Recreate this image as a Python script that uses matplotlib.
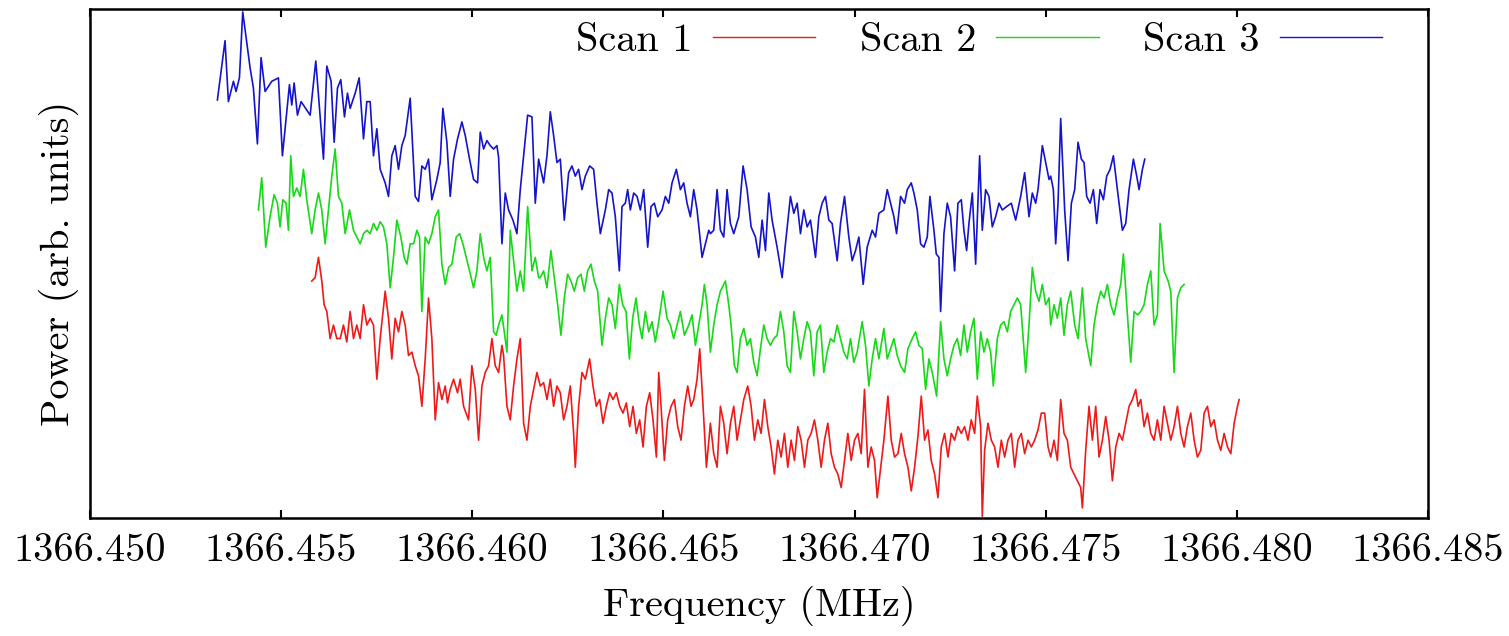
import numpy as np
import matplotlib
matplotlib.use("Agg")
import matplotlib.pyplot as plt

plt.rcParams['font.family'] = ['cmr10', 'DejaVu Serif']
plt.rcParams['axes.unicode_minus'] = False
plt.rcParams['mathtext.fontset'] = 'cm'

F0 = 1366.450  # MHz, reference frequency for the offsets below (offsets in kHz)

scan3_khz = [3.334,3.534,3.622,3.753,3.822,3.910,3.997,4.189,4.276,4.381,4.477,4.582,4.756,4.931,5.035,5.219,5.280,5.341,5.428,5.524,5.760,5.908,6.109,6.196,6.309,6.388,6.475,6.562,6.658,6.737,6.807,6.938,7.042,7.156,7.243,
             7.330,7.417,7.505,7.592,7.723,7.810,7.897,7.984,8.072,8.159,8.246,8.377,8.508,8.595,8.683,8.770,8.857,8.944,9.075,9.162,9.232,9.337,9.424,9.512,9.616,9.730,9.817,9.930,10.035,10.140,10.210,10.297,10.384,10.471,10.559,10.646,10.690,10.777,10.864,10.951,11.065,11.169,11.257,11.344,11.449,11.562,11.649,11.737,
             11.867,11.955,12.042,12.129,12.216,12.304,12.408,12.522,12.609,12.696,12.783,12.871,12.958,13.071,13.176,13.263,13.351,13.482,13.569,13.656,13.743,13.848,13.918,14.005,14.066,14.136,14.223,14.311,14.398,14.485,14.590,14.677,14.764,14.852,14.965,15.052,15.140,15.227,15.340,15.445,15.532,15.619,15.707,15.794,15.881,16.012,16.099,16.187,
             16.230,16.317,16.405,16.492,16.579,16.666,16.754,16.841,16.972,17.085,17.190,17.295,17.408,17.495,17.583,17.670,17.757,17.844,17.975,18.106,18.193,18.324,18.412,18.499,18.586,18.673,18.761,18.848,18.979,19.066,19.153,19.240,19.328,19.415,19.546,19.633,19.738,19.851,19.939,20.026,20.113,20.227,20.331,20.462,20.549,20.637,
             20.768,20.856,20.943,21.030,21.100,21.205,21.309,21.379,21.484,21.554,21.641,21.728,21.815,21.903,21.972,22.077,22.138,22.208,22.252,22.339,22.426,22.513,22.618,22.705,22.793,22.862,22.932,22.993,23.081,23.168,23.273,23.342,23.430,23.517,23.604,23.691,23.779,23.866,23.979,24.101,24.215,24.346,24.450,24.564,24.651,24.738,24.800,24.913,25.000,25.088,
             25.131,25.201,25.262,25.323,25.393,25.497,25.585,25.672,25.759,25.847,25.934,26.004,26.073,26.161,26.248,26.335,26.422,26.510,26.597,26.684,26.771,26.876,27.007,27.094,27.181,27.295,27.382,27.443,27.531,27.592]
scan3_power = [123.5,141.0,123.0,129.0,126.0,130.0,149.5,133.0,127.0,110.5,136.0,126.0,129.0,130.0,107.0,128.0,122.0,128.5,119.0,123.0,119.0,135.0,106.0,133.5,129.0,111.0,127.0,129.5,118.5,125.5,121.0,125.5,130.0,112.0,123.0,
               123.0,107.0,115.0,103.0,99.0,95.0,107.0,110.0,103.0,110.0,113.0,124.0,95.0,93.5,104.0,103.0,106.0,94.0,100.0,105.0,121.0,111.0,95.0,106.0,112.0,117.0,113.0,106.0,100.0,99.0,114.0,109.0,111.5,110.0,109.0,110.0,106.5,81.0,96.0,91.0,88.0,84.0,97.0,107.0,119.0,118.5,93.0,106.0,
               99.0,107.0,120.0,113.0,105.0,106.0,88.0,102.0,104.0,101.0,103.0,97.0,101.0,104.0,103.0,93.0,84.0,91.0,97.0,96.0,89.0,73.0,92.0,93.0,97.0,91.0,96.0,95.0,91.0,97.0,80.0,92.0,93.0,89.0,91.0,95.0,93.0,99.0,103.0,97.0,99.0,93.0,89.0,97.0,91.0,77.0,81.0,85.0,
               84.0,85.0,97.0,85.0,83.0,97.0,87.0,84.0,89.0,104.0,97.0,86.0,83.0,77.0,88.0,79.0,96.0,88.0,80.0,71.0,81.0,95.0,90.0,93.0,84.0,91.0,86.0,88.0,77.0,89.0,93.0,95.0,88.0,87.0,76.0,87.0,95.0,83.0,76.0,79.0,83.0,69.0,80.0,85.0,83.0,90.0,
               91.0,97.0,93.0,89.0,84.0,95.0,93.0,97.0,99.0,96.0,91.0,81.0,80.0,83.0,95.0,85.0,78.0,77.0,61.0,84.0,93.0,89.0,73.0,93.0,94.0,85.0,79.0,87.0,96.0,75.0,107.0,85.0,97.0,95.0,86.0,89.0,93.0,91.0,92.0,93.0,88.0,95.0,102.0,89.0,96.0,93.0,97.0,110.0,105.0,100.0,
               101.0,97.0,81.0,93.0,118.0,91.0,76.0,93.0,97.0,111.0,106.0,105.0,95.0,93.0,97.0,87.0,97.0,94.0,101.0,103.0,107.0,97.0,85.0,87.0,97.0,106.0,101.0,97.0,103.0,106.0]

scan2_khz = [4.407,4.494,4.599,4.712,4.817,4.904,4.974,5.044,5.131,5.192,5.253,5.323,5.411,5.498,5.585,5.672,5.803,5.890,5.978,6.065,6.152,6.240,6.327,6.414,6.501,6.589,6.676,6.789,6.894,6.981,7.068,7.156,7.243,
             7.330,7.417,7.505,7.592,7.679,7.766,7.854,7.941,8.028,8.133,8.220,8.290,8.377,8.464,8.552,8.621,8.683,8.770,8.857,8.944,9.032,9.119,9.206,9.293,9.381,9.468,9.581,9.669,9.756,9.843,9.930,10.035,10.122,10.210,10.297,10.384,10.471,10.559,10.628,10.690,10.777,10.838,10.908,10.995,11.082,11.169,11.257,11.344,11.449,11.562,11.649,11.737,
             11.780,11.867,11.955,12.059,12.146,12.234,12.321,12.408,12.496,12.583,12.670,12.757,12.845,12.932,13.019,13.106,13.194,13.281,13.394,13.482,13.569,13.656,13.743,13.848,13.935,14.023,14.110,14.197,14.284,14.372,14.441,14.529,14.616,14.703,14.790,14.878,14.991,15.096,15.183,15.270,15.358,15.445,15.550,15.663,15.750,15.838,15.925,16.012,16.073,16.143,
             16.230,16.317,16.405,16.492,16.623,16.710,16.771,16.858,16.928,17.015,17.103,17.190,17.277,17.364,17.452,17.539,17.626,17.713,17.801,17.888,17.975,18.062,18.150,18.237,18.324,18.412,18.499,18.586,18.673,18.761,18.848,18.935,19.022,19.110,19.197,19.284,19.371,19.459,19.546,19.633,19.720,19.808,19.895,19.982,20.069,20.200,20.288,20.375,20.462,20.549,20.637,
             20.768,20.856,20.943,21.030,21.117,21.205,21.309,21.397,21.510,21.597,21.684,21.772,21.859,21.946,22.034,22.147,22.252,22.339,22.426,22.513,22.601,22.688,22.775,22.862,22.950,23.037,23.124,23.212,23.299,23.386,23.473,23.561,23.630,23.735,23.822,23.910,23.997,24.084,24.171,24.259,24.346,24.477,24.564,24.651,24.738,24.826,24.913,25.000,25.088,
             25.131,25.218,25.306,25.393,25.480,25.567,25.655,25.759,25.847,25.960,26.047,26.178,26.265,26.353,26.440,26.527,26.614,26.702,26.789,26.876,26.963,27.033,27.120,27.225,27.313,27.400,27.487,27.574,27.662,27.749,27.836,27.923,27.993,28.098,28.203,28.272,28.359,28.447,28.534,28.621]
scan2_power = [91.0,100.5,80.0,89.0,95.5,93.0,86.0,94.0,93.0,85.0,107.0,95.0,97.5,95.0,103.0,94.0,84.0,91.0,96.0,91.0,81.0,91.0,101.0,109.0,95.0,93.0,84.0,91.0,85.0,83.0,81.0,84.0,85.0,
               84.0,87.0,85.0,87.5,86.0,81.0,68.0,77.0,88.0,83.0,77.0,75.0,81.0,81.0,85.0,83.0,61.0,83.0,81.0,84.0,89.0,91.0,75.0,69.0,74.0,75.0,83.0,84.0,81.0,77.0,73.0,68.0,73.0,84.0,77.0,73.0,77.0,55.0,54.0,57.0,60.0,55.0,49.0,85.0,76.0,67.0,73.0,67.0,92.0,73.0,77.0,71.0,
               71.0,73.0,68.0,79.0,71.0,63.0,54.0,65.0,72.0,70.0,67.0,71.0,72.0,67.0,73.0,75.0,70.0,67.0,51.0,59.0,65.0,63.0,56.0,69.0,63.0,61.0,47.0,59.0,65.0,57.0,53.0,61.0,55.0,58.0,52.0,58.0,67.0,59.0,57.0,53.0,57.0,61.0,54.0,57.0,60.0,51.0,57.0,63.0,69.0,63.0,
               49.0,57.0,63.0,67.0,70.0,63.0,57.0,45.0,43.0,53.0,56.0,51.0,53.0,46.0,42.0,50.0,57.0,53.0,51.0,53.0,54.0,61.0,55.0,45.0,43.0,61.0,55.0,47.0,53.0,58.0,55.0,42.0,55.0,57.0,43.0,49.0,53.0,52.0,57.0,53.0,49.0,47.0,53.0,46.0,49.0,58.0,51.0,39.0,47.0,53.0,47.0,
               56.0,47.0,50.0,53.0,48.0,45.0,43.0,50.0,53.0,55.0,51.0,50.0,38.0,47.0,43.0,36.0,58.0,47.0,42.0,47.0,51.0,53.0,48.0,57.0,49.0,55.0,59.0,41.0,55.0,49.0,53.0,49.0,39.0,53.0,57.0,58.0,55.0,61.0,63.0,65.0,63.0,43.0,57.0,74.0,67.0,64.0,69.0,63.0,65.0,
               57.0,63.0,59.0,65.0,54.0,63.0,67.0,57.0,53.0,68.0,53.0,45.0,57.0,63.0,67.0,65.0,69.0,63.0,60.0,65.0,69.0,78.0,63.0,46.0,61.0,60.0,61.0,63.0,69.0,73.0,57.0,60.0,87.0,73.0,70.0,67.0,43.0,65.0,68.0,69.0]

scan1_khz = [5.803,5.890,5.978,6.065,6.126,6.196,6.283,6.370,6.458,6.545,6.632,6.719,6.807,6.894,6.981,7.068,7.156,7.243,
             7.330,7.417,7.505,7.592,7.723,7.810,7.897,7.984,8.072,8.159,8.246,8.333,8.421,8.508,8.595,8.683,8.770,8.857,8.944,9.032,9.119,9.206,9.293,9.354,9.424,9.512,9.616,9.686,9.773,9.904,9.991,10.079,10.166,10.253,10.341,10.428,10.515,10.602,10.690,10.777,10.820,10.908,10.995,11.082,11.169,11.257,11.344,11.431,11.519,11.606,11.693,
             11.780,11.867,11.955,12.042,12.129,12.216,12.304,12.391,12.478,12.565,12.653,12.696,12.783,12.871,12.958,13.071,13.159,13.246,13.333,13.421,13.508,13.595,13.682,13.770,13.857,13.944,14.031,14.119,14.206,14.293,14.380,14.468,14.555,14.642,14.729,14.817,14.878,14.939,15.026,15.113,15.201,15.288,15.375,15.462,15.550,15.637,15.724,15.794,15.881,15.951,16.038,16.126,
             16.230,16.317,16.405,16.492,16.579,16.666,16.754,16.841,16.928,17.015,17.103,17.207,17.295,17.382,17.469,17.556,17.644,17.731,17.818,17.905,17.993,18.080,18.167,18.254,18.342,18.429,18.516,18.603,18.691,18.778,18.865,18.952,19.040,19.127,19.214,19.301,19.389,19.476,19.563,19.651,19.738,19.825,19.912,20.000,20.087,20.174,20.261,20.349,20.436,20.523,20.593,
             20.768,20.873,20.960,21.047,21.135,21.222,21.309,21.397,21.484,21.571,21.658,21.746,21.833,21.920,22.007,22.095,22.182,22.269,22.356,22.444,22.531,22.618,22.705,22.793,22.880,22.967,23.054,23.142,23.211,23.299,23.342,23.403,23.491,23.578,23.665,23.752,23.840,23.927,24.014,24.101,24.189,24.276,24.363,24.450,24.538,24.625,24.712,24.799,24.887,24.974,25.061,
             25.131,25.218,25.306,25.393,25.480,25.567,25.655,25.742,25.829,25.916,25.960,26.047,26.134,26.222,26.309,26.396,26.484,26.571,26.658,26.745,26.833,26.920,27.007,27.094,27.182,27.269,27.356,27.417,27.487,27.574,27.662,27.749,27.836,27.923,28.011,28.098,28.185,28.272,28.359,28.447,28.534,28.621,28.708,28.796,28.883,28.970,29.057,29.145,29.232,29.319,29.406,29.494,29.581,29.668,29.755,29.843,29.930,30.017,30.061]
scan1_power = [70.0,71.0,77.0,70.0,63.0,61.0,53.0,57.0,53.0,53.0,57.0,52.0,61.0,53.0,57.0,53.0,63.0,57.0,
               59.0,57.0,41.0,53.0,67.0,59.0,47.0,59.0,55.0,61.0,57.0,48.0,49.0,45.0,42.0,33.0,47.0,65.0,53.0,29.0,40.0,35.0,39.0,34.0,38.0,41.0,37.0,41.0,33.0,29.0,45.0,38.0,23.0,39.0,43.0,45.0,53.0,45.0,43.0,51.0,48.0,33.0,29.0,39.0,47.0,53.0,28.0,23.0,33.0,38.0,43.0,
               39.0,40.0,35.0,41.0,33.0,39.0,37.0,29.0,33.0,39.0,25.0,15.0,33.0,43.0,41.0,47.0,39.0,33.0,35.0,28.0,33.0,37.0,35.0,37.0,33.0,31.0,34.0,27.0,33.0,25.0,29.0,21.0,33.0,37.0,29.0,18.0,43.0,33.0,17.0,29.0,33.0,35.0,27.0,23.0,33.0,39.0,33.0,35.0,41.0,50.0,33.0,15.0,
               28.0,19.0,15.0,33.0,28.0,19.0,28.0,33.0,23.0,29.0,35.0,39.0,33.0,23.0,29.0,25.0,35.0,27.0,21.0,13.0,23.0,18.0,25.0,15.0,23.0,17.0,27.0,23.0,15.0,23.0,25.0,29.0,23.0,15.0,23.0,28.0,19.0,15.0,13.0,9.0,17.0,25.0,17.0,23.0,25.0,19.0,38.0,15.0,21.0,17.0,6.0,
               23.0,36.0,23.0,18.0,19.0,25.0,19.0,15.0,8.0,15.0,24.0,36.0,23.0,26.0,17.0,13.0,6.0,21.0,25.0,18.0,25.0,23.0,27.0,25.0,27.0,23.0,29.0,25.0,36.0,27.0,0.5,20.0,28.0,23.0,21.0,15.0,23.0,18.0,23.0,25.0,15.0,23.0,25.0,19.0,23.0,21.0,23.0,26.0,31.0,31.0,21.0,
               18.0,23.0,17.0,35.0,25.0,23.0,15.0,13.0,11.0,9.0,3.0,20.0,33.0,23.0,33.0,18.0,23.0,30.0,23.0,11.0,21.0,25.0,23.0,28.0,33.0,35.0,38.0,33.0,35.0,27.0,31.0,25.0,23.0,29.0,23.0,33.0,28.0,23.0,27.0,33.0,25.0,21.0,27.0,31.0,23.0,18.0,20.0,31.0,33.0,27.0,29.0,23.0,20.0,25.0,21.0,19.0,28.0,33.0,35.0]

series_labels = ["Scan 1", "Scan 2", "Scan 3"]
series_colors = ["#ee1a1a", "#18d818", "#1414cc"]
tick_freqs = [1366.450, 1366.455, 1366.460, 1366.465, 1366.470, 1366.475, 1366.480, 1366.485]
tick_labels = ["1366.450", "1366.455", "1366.460", "1366.465", "1366.470", "1366.475", "1366.480", "1366.485"]

FS = 29

fig = plt.figure(figsize=(15.09, 6.36), dpi=100)
ax = fig.add_axes([0.0596, 0.1855, 0.8867, 0.8011])

for khz, pw, lab, col in zip([scan1_khz, scan2_khz, scan3_khz],
                             [scan1_power, scan2_power, scan3_power],
                             series_labels, series_colors):
    f = F0 + np.asarray(khz) / 1000.0
    ax.plot(f, pw, color=col, lw=1.2, label=lab)

ax.set_xlim(tick_freqs[0], tick_freqs[-1])
ax.set_ylim(0, 150.5)
ax.set_xticks(tick_freqs)
ax.set_xticklabels(tick_labels)
ax.set_yticks([])
ax.tick_params(axis='x', direction='in', top=True, bottom=True, length=6, width=1.5,
               labelsize=FS, pad=11)
for s in ax.spines.values():
    s.set_linewidth(1.8)

ax.set_xlabel("Frequency (MHz)", fontsize=FS, labelpad=12)
ax.set_ylabel("Power (arb. units)", fontsize=FS, labelpad=8)

leg = ax.legend(loc='center right', bbox_to_anchor=(0.966, 0.937), ncol=3,
                markerfirst=False, frameon=False, fontsize=FS, borderpad=0,
                handlelength=2.55, handletextpad=0.5, columnspacing=1.1,
                borderaxespad=0)
for line in leg.get_lines():
    line.set_linewidth(1.0)

fig.savefig("out.png", dpi=100)
